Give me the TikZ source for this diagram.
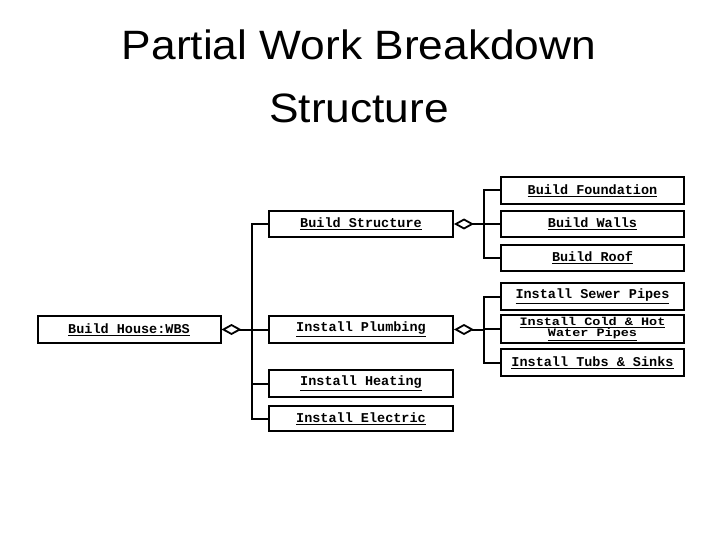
\documentclass[tikz,border=0pt]{standalone}
\usepackage{fontspec}
\setmainfont{Liberation Sans}
\newfontfamily\wbsmono{Liberation Mono}
\usetikzlibrary{arrows.meta}
\tikzset{
  wbsbox/.style={draw, line width=2pt, inner sep=0pt, minimum width=183pt,
    font=\wbsmono\bfseries\fontsize{13.5}{13.5}\selectfont, align=center},
  link/.style={line width=2pt},
  agg/.style={line width=2pt, {Diamond[open,length=20pt,width=11pt,line width=1.8pt]}-},
  ttl/.style={font=\fontsize{41}{48}\selectfont, anchor=base, xscale=1.08, transform shape},
}
\newcommand{\ul}[1]{\underline{#1}}
\begin{document}
\begin{tikzpicture}[x=1pt,y=-1pt]
\useasboundingbox (0,0) rectangle (720,540);
\node[ttl] (t1) at (359,60) {Partial Work Breakdown};
\node[ttl] (t2) at (359,123) {Structure};

\node[wbsbox, minimum height=27pt] (bh) at (129,329.5) {\ul{Build House:WBS}};

\node[wbsbox, minimum width=184pt, minimum height=26pt] (bs) at (361,224) {\ul{Build Structure}};
\node[wbsbox, minimum width=184pt, minimum height=27pt] (ip) at (361,329.5) {\ul{Install Plumbing}};
\node[wbsbox, minimum width=184pt, minimum height=27pt] (ih) at (361,383.5) {\ul{Install Heating}};
\node[wbsbox, minimum width=184pt, minimum height=25pt] (ie) at (361,418.5) {\ul{Install Electric}};

\node[wbsbox, minimum height=27pt] (bf) at (592.5,190.5) {\ul{Build Foundation}};
\node[wbsbox, minimum height=26pt] (bw) at (592.5,224) {\ul{Build Walls}};
\node[wbsbox, minimum height=26pt] (br) at (592.5,258) {\ul{Build Roof}};
\node[wbsbox, minimum height=27pt] (sp) at (592.5,296.5) {\ul{Install Sewer Pipes}};
\node[wbsbox, minimum height=28pt] (ch) at (592.5,329) {\scalebox{1}[0.84]{\renewcommand\arraystretch{1}\begin{tabular}{@{}c@{}}\ul{Install Cold \& Hot}\\[-0.5pt]\ul{Water Pipes}\end{tabular}}};
\node[wbsbox, minimum height=27pt] (ts) at (592.5,362.5) {\ul{Install Tubs \& Sinks}};

\draw[agg] (bh.east) -- ++(30,0) coordinate (j1);
\draw[link] (j1) |- (bs.west);
\draw[link] (j1) |- (ip.west);
\draw[link] (j1) |- (ih.west);
\draw[link] (j1) |- (ie.west);

\draw[agg] (bs.east) -- ++(29.5,0) coordinate (j2);
\draw[link] (j2) |- (bf.west);
\draw[link] (j2) |- (bw.west);
\draw[link] (j2) |- (br.west);

\draw[agg] (ip.east) -- ++(29.5,0) coordinate (j3);
\draw[link] (j3) |- (sp.west);
\draw[link] (j3) |- (ch.west);
\draw[link] (j3) |- (ts.west);
\end{tikzpicture}
\end{document}
